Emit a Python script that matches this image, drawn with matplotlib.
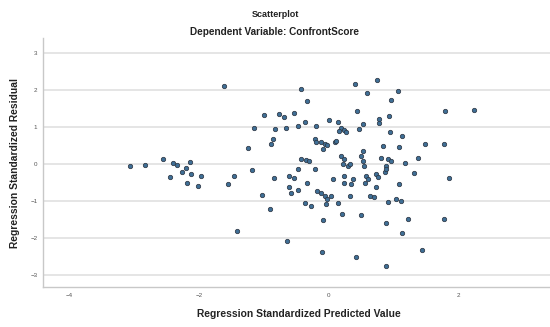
import matplotlib
matplotlib.use("Agg")
import matplotlib.pyplot as plt

plt.rcParams['font.family'] = ['Liberation Sans', 'DejaVu Sans']

# Regression standardized predicted values (x) and residuals (y)
pred = [
    -3.06, -2.83, -2.56, -2.41, -2.34, -2.45, -2.26, -2.21, -2.14, -2.12,
    -1.97, -2.18, -2.02, -1.62, -1.46, -1.56, -1.42, -1.24, -1.19, -1.16,
    -1.00, -1.03, -0.91, -0.84, -0.83, -0.89, -0.86, -0.77, -0.69, -0.66,
    -0.53, -0.48, -0.37, -0.43, -0.34, -0.62, -0.53, -0.61, -0.58, -0.48,
    -0.48, -0.43, -0.35, -0.30, -0.34, -0.22, -0.20, -0.22, -0.20, -0.12,
    -0.06, 0.00, -0.18, -0.12, -0.06, -0.02, -0.37, -0.27, -0.09, -0.64,
    -0.11, 0.41, 0.74, 0.59, 1.07, 0.96, 0.44, 0.93, 0.77, 0.77,
    0.53, 0.47, 0.14, 0.19, 0.24, 0.16, 0.94, 1.13, 1.80, 2.24,
    1.49, 1.78, 1.38, 1.86, -0.02, 0.09, 0.19, 0.24, 0.22, 0.29,
    0.53, 0.50, 0.53, 0.83, 0.81, 0.91, 0.96, 0.89, 0.86, 0.73,
    0.76, 0.57, 0.60, 0.56, 0.37, 0.34, 0.32, 0.24, 0.23, 0.06,
    1.08, 1.17, 1.32, 1.09, -0.04, 0.04, 0.14, 0.63, 0.70, 0.73,
    0.92, 1.04, 1.12, 0.20, 0.50, 0.89, 1.22, 1.77, 1.13, 0.42,
    0.89, 1.44, 0.32, 0.55, -0.09, 0.11, 0.27, 0.89,
]
resid = [
    -0.05, -0.03, 0.13, 0.04, -0.01, -0.36, -0.21, -0.09, 0.05, -0.26,
    -0.33, -0.51, -0.60, 2.11, -0.32, -0.55, -1.81, 0.43, -0.17, 0.98,
    1.34, -0.83, -1.21, -0.37, 0.96, 0.56, 0.68, 1.37, 1.29, 0.99,
    1.38, 1.04, 1.13, 2.04, 1.71, -0.33, -0.38, -0.62, -0.79, -0.70,
    -0.14, 0.15, 0.11, 0.09, -0.50, -0.12, 1.04, 0.68, 0.59, 0.59,
    0.54, 1.20, -0.72, -0.77, -0.86, -0.95, -1.04, -1.13, -1.50, -2.09,
    -2.37, 2.17, 2.28, 1.93, 1.97, 1.73, 1.43, 1.31, 1.22, 1.11,
    1.08, 0.95, 1.13, 0.99, 0.93, 0.90, 0.88, 0.75, 1.43, 1.47,
    0.56, 0.56, 0.17, -0.37, 0.51, 0.59, 0.22, 0.14, 0.00, -0.05,
    0.36, 0.22, 0.09, 0.48, 0.16, 0.14, 0.09, -0.05, -0.22, -0.27,
    -0.36, -0.32, -0.41, -0.52, -0.41, -0.54, -0.86, -0.32, -0.50, -0.41,
    0.47, 0.02, -0.24, -0.54, -1.08, -0.86, -1.04, -0.86, -0.90, -0.63,
    -1.02, -0.93, -0.99, -1.36, -1.38, -1.59, -1.49, -1.49, -1.87, -2.51,
    -2.77, -2.33, 0.00, -0.05, 0.41, 0.63, 0.86, -0.14,
]

x_ticks = [-4, -2, 0, 2]
y_ticks = [-3, -2, -1, 0, 1, 2, 3]

fig = plt.figure(figsize=(5.5, 3.27), dpi=100)
ax = fig.add_axes([0.078, 0.122, 0.93, 0.762])

ax.scatter(pred, resid, s=10, facecolor='#3f6f96', edgecolor='#2e3744',
           linewidths=0.55, zorder=3)

ax.set_xlim(-4.41, 3.48)
ax.set_ylim(-3.33, 3.42)
ax.set_xticks(x_ticks)
ax.set_yticks(y_ticks)
ax.tick_params(axis='both', labelsize=4.5, colors='#555555', length=0, pad=4)

ax.yaxis.grid(True, color='#dedede', linewidth=1.1, zorder=0)
ax.set_axisbelow(True)
for side in ('top', 'right'):
    ax.spines[side].set_visible(False)
for side in ('left', 'bottom'):
    ax.spines[side].set_color('#c8c8c8')
    ax.spines[side].set_linewidth(1.0)

ax.set_xlabel('Regression Standardized Predicted Value', fontsize=7.4,
              fontweight='bold', color='#222222', labelpad=8)
ax.set_ylabel('Regression Standardized Residual', fontsize=7.4,
              fontweight='bold', color='#222222', labelpad=7)

fig.text(0.5, 0.956, 'Scatterplot', ha='center', va='center', fontsize=6.5,
         fontweight='bold', color='#222222')
fig.text(0.5, 0.902, 'Dependent Variable: ConfrontScore', ha='center',
         va='center', fontsize=7.2, fontweight='bold', color='#222222')

fig.savefig('out.png', dpi=100)
